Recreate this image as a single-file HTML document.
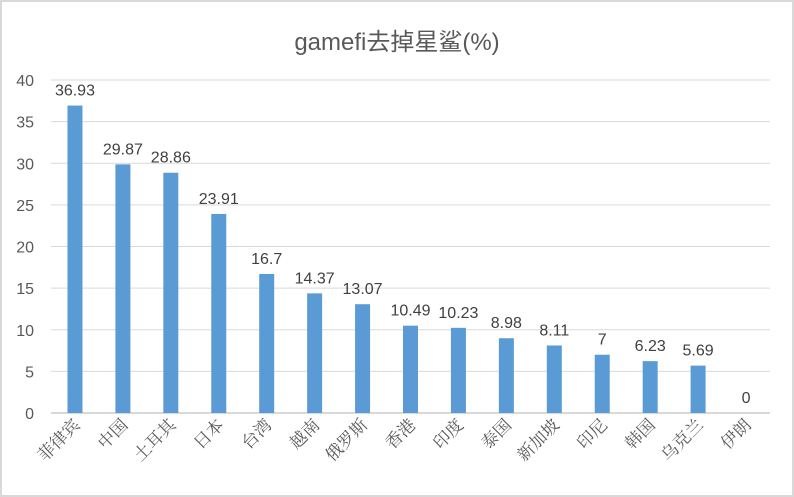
<!DOCTYPE html>
<html><head><meta charset="utf-8"><style>
body{margin:0;background:#fff}
svg{display:block}
</style></head><body>
<svg width="794" height="497" font-family="'Liberation Sans','Noto Sans CJK SC',sans-serif">
<rect x="1" y="1" width="792" height="495" fill="#fff" stroke="#d9d9d9" stroke-width="2"/>
<text x="397" y="50" text-anchor="middle" font-size="24" fill="#595959">gamefi去掉星鲨(%)</text>
<g id="grid"></g><g id="bars"></g><g id="labels"></g>
</svg>
<script>
const categories=["菲律宾","中国","土耳其","日本","台湾","越南","俄罗斯","香港","印度","泰国","新加坡","印尼","韩国","乌克兰","伊朗"];
const values=[36.93,29.87,28.86,23.91,16.7,14.37,13.07,10.49,10.23,8.98,8.11,7,6.23,5.69,0];
const valueLabels=["36.93","29.87","28.86","23.91","16.7","14.37","13.07","10.49","10.23","8.98","8.11","7","6.23","5.69","0"];
const ticks=[0,5,10,15,20,25,30,35,40];
const NS="http://www.w3.org/2000/svg";
const x0=51,x1=770,y0=413,y1=80,ymax=40;
const yS=v=>y0-(v/ymax)*(y0-y1);
const step=(x1-x0)/categories.length;
const xS=i=>x0+step*(i+0.5);
function mk(t,a,p){const e=document.createElementNS(NS,t);for(const k in a)e.setAttribute(k,a[k]);p.appendChild(e);return e;}
const g=document.getElementById('grid'),b=document.getElementById('bars'),l=document.getElementById('labels');
ticks.forEach(t=>{
 const ln=mk('line',{x1:x0,x2:x1,y1:yS(t),y2:yS(t),stroke:'#d9d9d9','stroke-width':t===0?2:1},g);
 
 
 const tx=mk('text',{x:34,y:yS(t)+6,'text-anchor':'end','font-size':16,fill:'#595959'},g);
 tx.textContent=t;
 
 
});
categories.forEach((c,i)=>{
 const cx=xS(i);
 const r=mk('rect',{x:cx-7.5,y:yS(values[i]),width:15,height:y0-yS(values[i]),fill:'#5b9bd5'},b);
 
 
 const v=mk('text',{x:cx,y:yS(values[i])-10,'text-anchor':'middle','font-size':16,fill:'#404040'},l);
 v.textContent=valueLabels[i];
 
 
 const t=mk('text',{x:cx+6,y:426,'text-anchor':'end','font-size':17,fill:'#595959','font-family':"'Noto Serif CJK SC',serif",transform:`rotate(-45 ${cx+6} 426)`},l);
 t.textContent=c;
 
 
});
</script>
</body></html>
